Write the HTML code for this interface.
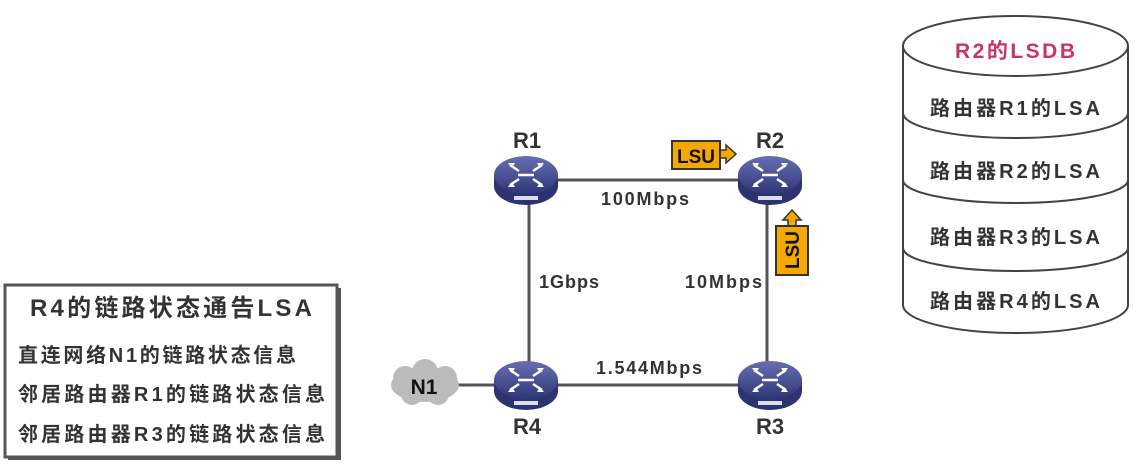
<!DOCTYPE html>
<html><head><meta charset="utf-8"><style>
body{margin:0;background:#fff;width:1142px;height:466px;overflow:hidden}
svg{display:block;font-family:"Liberation Sans","Noto Sans CJK SC",sans-serif;font-weight:bold}
</style></head><body>
<svg width="1142" height="466" viewBox="0 0 1142 466">
<defs>
<linearGradient id="rg" x1="0" y1="0" x2="0" y2="1"><stop offset="0" stop-color="#6670b0"/><stop offset="1" stop-color="#2f3678"/></linearGradient>
<g id="router">
<path d="M-32,0 v11 a32,19 0 0 0 64,0 v-11 z" fill="#2c3370"/>
<ellipse cx="0" cy="0" rx="32" ry="19" fill="url(#rg)"/>
<g stroke="#fff" stroke-width="2.5" fill="none">
<path d="M-16,-10 l9,6 M-16,10 l9,-6 M16,-10 l-9,6 M16,10 l-9,-6 M-8,0 h16"/>
</g>
<g fill="#fff"><path d="M-18,-12 l7,0 l-3,5z M18,-12 l-7,0 l3,5z M-18,12 l7,0 l-3,-5z M18,12 l-7,0 l3,-5z"/></g>
<rect x="-12" y="21" width="24" height="4" fill="#dde"/>
</g>
</defs>
<g stroke="#555" stroke-width="3">
<line x1="526" y1="180" x2="770" y2="180"/>
<line x1="529" y1="180" x2="529" y2="385"/>
<line x1="767" y1="180" x2="767" y2="385"/>
<line x1="526" y1="385" x2="770" y2="385"/>
<line x1="450" y1="385" x2="500" y2="385"/>
</g>
<g fill="#bbb">
<ellipse cx="425" cy="385" rx="34" ry="17"/>
<circle cx="405" cy="378" r="12"/><circle cx="425" cy="372" r="13"/><circle cx="445" cy="378" r="12"/>
<circle cx="412" cy="394" r="11"/><circle cx="438" cy="394" r="11"/>
</g>
<text x="424" y="394" font-size="21" text-anchor="middle" fill="#111">N1</text>
<use href="#router" x="526" y="175"/>
<use href="#router" x="770" y="175"/>
<use href="#router" x="526" y="380"/>
<use href="#router" x="770" y="380"/>
<g fill="#333" font-size="22" text-anchor="middle">
<text x="527" y="148">R1</text><text x="770" y="148">R2</text>
<text x="527" y="434">R4</text><text x="770" y="434">R3</text>
</g>
<g fill="#333" font-size="18">
<text x="601" y="205" textLength="88">100Mbps</text>
<text x="539" y="288" textLength="60">1Gbps</text>
<text x="685" y="288" textLength="77">10Mbps</text>
<text x="596" y="374" textLength="106">1.544Mbps</text>
</g>
<path d="M720,150 h6 v-5 l10,9 l-10,9 v-5 h-6z" fill="#f5a800" stroke="#333" stroke-width="1.5"/>
<rect x="672" y="141" width="48" height="28" fill="#f5a800" stroke="#333" stroke-width="2"/>
<text x="696" y="163" font-size="19" text-anchor="middle" fill="#111">LSU</text>
<path d="M788,226 v-6 h-5 l9,-10 l9,10 h-5 v6z" fill="#f5a800" stroke="#333" stroke-width="1.5"/>
<rect x="776" y="226" width="32" height="49" fill="#f5a800" stroke="#333" stroke-width="2"/>
<text transform="translate(799,250) rotate(-90)" font-size="19" text-anchor="middle" fill="#111">LSU</text>
<rect x="8" y="288" width="333" height="172" fill="#555"/>
<rect x="5" y="285" width="332" height="172" fill="#fff" stroke="#555" stroke-width="3"/>
<text x="30" y="316" font-size="24" textLength="282" fill="#333">R4的链路状态通告LSA</text>
<g font-size="20" fill="#333">
<text x="18" y="362" textLength="278">直连网络N1的链路状态信息</text>
<text x="18" y="401" textLength="307">邻居路由器R1的链路状态信息</text>
<text x="18" y="441" textLength="307">邻居路由器R3的链路状态信息</text>
</g>
<g fill="#fff" stroke="#444" stroke-width="2">
<path d="M903,46 V305 A112.5,28 0 0 0 1128,305 V46"/>
<ellipse cx="1015.5" cy="46" rx="112.5" ry="30"/>
<path d="M903,113 A112.5,25 0 0 0 1128,113" fill="none"/>
<path d="M903,180 A112.5,23 0 0 0 1128,180" fill="none"/>
<path d="M903,248 A112.5,23 0 0 0 1128,248" fill="none"/>
</g>
<text x="955" y="58" font-size="21" textLength="120" fill="#c8336a">R2的LSDB</text>
<g font-size="20" fill="#333">
<text x="930" y="115" textLength="170">路由器R1的LSA</text>
<text x="930" y="178" textLength="170">路由器R2的LSA</text>
<text x="930" y="244" textLength="170">路由器R3的LSA</text>
<text x="930" y="308" textLength="170">路由器R4的LSA</text>
</g>
</svg>
</body></html>
